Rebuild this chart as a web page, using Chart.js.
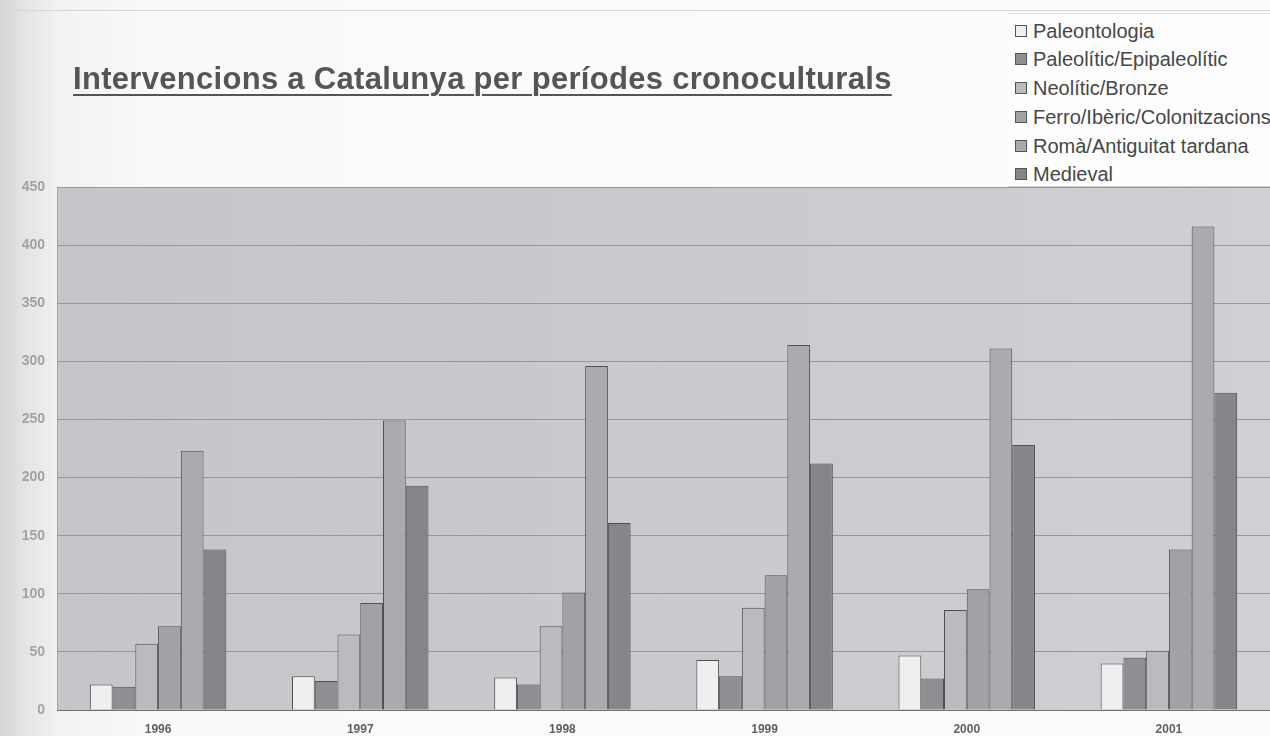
<!DOCTYPE html>
<html>
<head>
<meta charset="utf-8">
<script src="https://cdn.jsdelivr.net/npm/chart.js@4.4.0/dist/chart.umd.min.js"></script>
<style>
  html, body { margin: 0; padding: 0; }
  body {
    width: 1270px; height: 736px; overflow: hidden; position: relative;
    background: linear-gradient(to right, #d4d4d6 0px, #e4e4e5 25px, #f2f2f2 60px, #fafafa 160px, #fbfbfb 100%);
    font-family: "Liberation Sans", Arial, sans-serif;
  }
  #topline { position: absolute; left: 0; top: 10px; width: 1270px; height: 1px; background: #d6d6d6; }
  #wrap { position: absolute; left: 0; top: 0; width: 1270px; height: 736px; }
  #title {
    position: absolute; left: 73px; top: 61px; margin: 0;
    font-family: "Liberation Sans", Arial, sans-serif; font-weight: bold;
    font-size: 31px; line-height: 36px; color: #555; text-decoration: underline; text-decoration-thickness: 2px;
    text-underline-offset: 5px; white-space: nowrap; letter-spacing: 0.3px;
  }
  #legend {
    position: absolute; left: 1008px; top: 13px; width: 262px; height: 172px;
    background: #fdfdfd; border-top: 1px solid #dedede; border-bottom: 1px solid #d0d0d0;
  }
  .li { position: absolute; left: 7px; font-size: 20px; color: #474747; white-space: nowrap; line-height: 22px; }
  .sw { display: inline-block; width: 10px; height: 10px; border: 1px solid #555; margin-right: 6px; vertical-align: 1px; }
</style>
</head>
<body>
<div id="topline"></div>
<div id="wrap"><canvas id="c" width="1270" height="736"></canvas></div>
<div id="title"></div>
<div id="legend"></div>
<script>
const titleText = "Intervencions a Catalunya per períodes cronoculturals";
const years = ["1996", "1997", "1998", "1999", "2000", "2001"];
const seriesNames = [
  "Paleontologia",
  "Paleolític/Epipaleolític",
  "Neolític/Bronze",
  "Ferro/Ibèric/Colonitzacions",
  "Romà/Antiguitat tardana",
  "Medieval"
];
const paleontologia = [22, 29, 28, 43, 47, 40];
const paleolitic    = [20, 25, 22, 29, 27, 45];
const neolitic      = [57, 65, 72, 88, 86, 51];
const ferro         = [72, 92, 101, 116, 104, 138];
const roma          = [223, 249, 296, 314, 311, 416];
const medieval      = [138, 193, 161, 212, 228, 273];
const yTicks = [0, 50, 100, 150, 200, 250, 300, 350, 400, 450];
const seriesColors = ["#efeff0", "#8e8f92", "#babbbe", "#a1a2a5", "#aaabae", "#858689"];

const seriesData = [paleontologia, paleolitic, neolitic, ferro, roma, medieval];

document.getElementById("title").textContent = titleText;
const legendEl = document.getElementById("legend");
const legendCenters = [17, 45, 74, 103, 132, 160];
seriesNames.forEach((n, i) => {
  const d = document.createElement("div");
  d.className = "li";
  d.style.top = (legendCenters[i] - 11) + "px";
  const s = document.createElement("span");
  s.className = "sw";
  s.style.background = seriesColors[i];
  d.appendChild(s);
  d.appendChild(document.createTextNode(n));
  legendEl.appendChild(d);
});

const plotBg = {
  id: "plotBg",
  beforeDraw(chart) {
    const { ctx, chartArea: a } = chart;
    ctx.save();
    const g = ctx.createLinearGradient(a.left, 0, a.right, 0);
    g.addColorStop(0, "#c5c6ca");
    g.addColorStop(0.5, "#c9cacd");
    g.addColorStop(1, "#cfd0d3");
    ctx.fillStyle = g;
    ctx.fillRect(a.left, a.top, a.right - a.left, a.bottom - a.top);
    ctx.strokeStyle = "#a4a5a8";
    ctx.lineWidth = 1;
    ctx.beginPath();
    ctx.moveTo(a.left + 0.5, a.bottom);
    ctx.lineTo(a.left + 0.5, a.top + 0.5);
    ctx.lineTo(a.right, a.top + 0.5);
    ctx.stroke();
    ctx.restore();
  }
};

new Chart(document.getElementById("c"), {
  type: "bar",
  data: {
    labels: years,
    datasets: seriesNames.map((n, i) => ({
      label: n,
      data: seriesData[i],
      backgroundColor: seriesColors[i],
      borderColor: "#4f5052",
      borderWidth: 1,
      borderSkipped: "bottom",
      barPercentage: 1.0,
      categoryPercentage: 0.675
    }))
  },
  options: {
    responsive: false,
    animation: false,
    layout: { padding: { top: 187, right: 0, bottom: 0, left: 0 } },
    plugins: { legend: { display: false }, title: { display: false }, tooltip: { enabled: false } },
    scales: {
      x: {
        grid: { display: false, drawTicks: false },
        border: { display: true, color: "#6e6f72", width: 1 },
        ticks: { color: "#606060", padding: 12, font: { family: "Liberation Sans", size: 12, weight: "bold" } },
        afterFit(s) { s.height = 26; }
      },
      y: {
        min: 0, max: 450,
        afterBuildTicks(s) { s.ticks = yTicks.map(v => ({ value: v })); },
        grid: { color: "#96979a", lineWidth: 1, drawTicks: false, tickLength: 0 },
        border: { display: false },
        ticks: { color: "#a2a2a4", padding: 12, font: { family: "Liberation Sans", size: 14, weight: "bold" } },
        afterFit(s) { s.width = 57; }
      }
    }
  },
  plugins: [plotBg]
});
</script>
</body>
</html>
